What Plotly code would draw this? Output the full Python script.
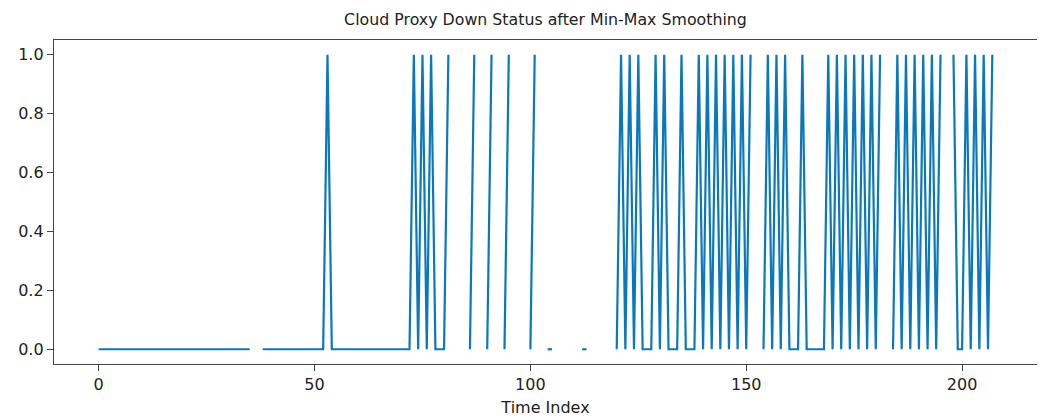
import plotly.graph_objects as go

# Time index (0..207) and min-max smoothed down status (None = missing sample)
time_index = list(range(208))

status = (
    [0] * 36                      # 0-35
    + [None, None]                # 36-37
    + [0] * 15                    # 38-52
    + [1]                         # 53
    + [0] * 19                    # 54-72
    + [1, 0, 1, 0, 1, 0, 0, 0, 1]  # 73-81
    + [None] * 4                  # 82-85
    + [0, 1]                      # 86-87
    + [None, None]                # 88-89
    + [0, 1]                      # 90-91
    + [None, None]                # 92-93
    + [0, 1]                      # 94-95
    + [None] * 4                  # 96-99
    + [0, 1]                      # 100-101
    + [None, None]                # 102-103
    + [0, 0]                      # 104-105
    + [None] * 6                  # 106-111
    + [0, 0]                      # 112-113
    + [None] * 6                  # 114-119
    + [0, 1, 0, 1, 0, 1, 0, 0, 0, 1, 0, 1, 0, 0, 0, 1,   # 120-135
       0, 0, 0, 1, 0, 1, 0, 1, 0, 1, 0, 1, 0, 1, 0, 1]   # 136-151
    + [None, None]                # 152-153
    + [0, 1, 0, 1, 0, 1, 0, 0, 0, 1, 0, 0, 0, 0, 0,      # 154-168
       1, 0, 1, 0, 1, 0, 1, 0, 1, 0, 1, 0, 1]            # 169-181
    + [None, None]                # 182-183
    + [0, 1, 0, 1, 0, 1, 0, 1, 0, 1, 0, 1]               # 184-195
    + [None, None]                # 196-197
    + [1, 0, 0, 1, 0, 1, 0, 1, 0, 1]                     # 198-207
)

x_ticks = [0, 50, 100, 150, 200]
y_ticks = [0.0, 0.2, 0.4, 0.6, 0.8, 1.0]
y_tick_labels = ["0.0", "0.2", "0.4", "0.6", "0.8", "1.0"]

W, H = 1037, 409  # page body keeps an 8px margin

fig = go.Figure()
fig.add_trace(go.Scatter(
    x=time_index, y=status, mode="lines",
    line=dict(color="#0a78bd", width=2.2),
    connectgaps=False, showlegend=False,
))

font = dict(family="DejaVu Sans", size=16, color="#222222")
fig.update_layout(
    width=W, height=H,
    margin=dict(l=46, r=8, t=32, b=53, autoexpand=False),
    paper_bgcolor="white", plot_bgcolor="white",
    title=dict(text="Cloud Proxy Down Status after Min-Max Smoothing",
               x=(46 + W - 8) / 2 / W, xanchor="center",
               y=1 - 11 / H, yanchor="middle",
               font=dict(family="DejaVu Sans", size=15.8, color="#222222")),
    font=font,
)
fig.update_xaxes(
    range=[-10.35, 217.35], tickvals=x_ticks, ticktext=[str(v) for v in x_ticks],
    showgrid=False, zeroline=False, showline=True, linecolor="#444444", linewidth=1.3,
    mirror=True, ticks="outside", ticklen=6, tickcolor="#444444",
    title=dict(text="Time Index", font=font, standoff=12),
)
fig.update_yaxes(
    range=[-0.05, 1.05], tickvals=y_ticks, ticktext=y_tick_labels,
    showgrid=False, zeroline=False, showline=True, linecolor="#444444", linewidth=1.3,
    mirror=True, ticks="outside", ticklen=6, tickcolor="#444444",
)

fig.write_html("out.html")
